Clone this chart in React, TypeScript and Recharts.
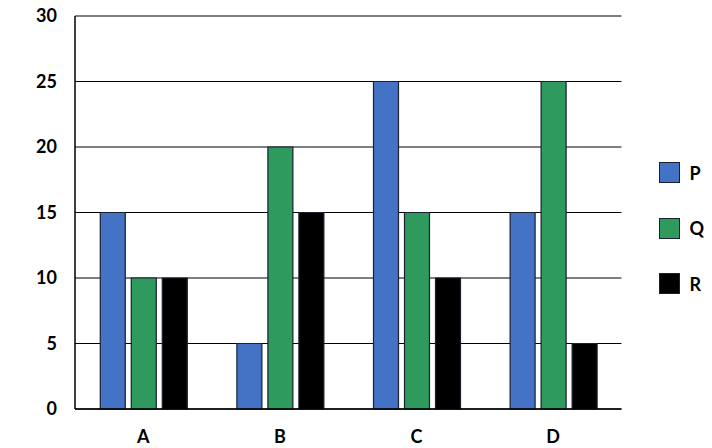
import { Bar, BarChart, CartesianGrid, Legend, XAxis, YAxis } from 'recharts';

const CATEGORIES = ['A', 'B', 'C', 'D'];
const SERIES_P = [15, 5, 25, 15];
const SERIES_Q = [10, 20, 15, 25];
const SERIES_R = [10, 15, 10, 5];
const Y_TICKS = [0, 5, 10, 15, 20, 25, 30];

const FONT = 'Lato, "Open Sans", sans-serif';
const BAR_STROKE = '#1b1f2e';

const SERIES = [
	{ key: 'P', color: '#4472c4' },
	{ key: 'Q', color: '#2e9a5e' },
	{ key: 'R', color: '#000000' },
];

const data = CATEGORIES.map((name, i) => ({
	name,
	P: SERIES_P[i],
	Q: SERIES_Q[i],
	R: SERIES_R[i],
}));

function SideLegend() {
	return (
		<div style={{ display: 'flex', flexDirection: 'column', gap: 34.5, paddingTop: 8 }}>
			{SERIES.map((s) => (
				<div key={s.key} style={{ display: 'flex', alignItems: 'center', height: 21 }}>
					<span
						style={{
							boxSizing: 'border-box',
							width: 21,
							height: 21,
							background: s.color,
							border: `1.5px solid ${BAR_STROKE}`,
							marginRight: 9,
						}}
					/>
					<span style={{ fontFamily: FONT, fontWeight: 700, fontSize: 18, color: '#000' }}>
						{s.key}
					</span>
				</div>
			))}
		</div>
	);
}

export default function App() {
	const tick = { fontFamily: FONT, fontWeight: 700, fontSize: 18, fill: '#000' };

	return (
		<div style={{ position: 'absolute', left: 0, top: 0, width: 712, height: 448, background: '#fff' }}>
			<BarChart
				width={712}
				height={448}
				data={data}
				margin={{ top: 16, right: 46, bottom: 0, left: 15 }}
				barCategoryGap="18.5%"
				barGap={6}
			>
				<CartesianGrid vertical={false} stroke="#000" strokeWidth={1.2} />
				<XAxis
					dataKey="name"
					height={39}
					axisLine={{ stroke: '#000', strokeWidth: 1.5 }}
					tickLine={false}
					tickSize={0}
					tickMargin={21}
					tick={tick}
				/>
				<YAxis
					width={60}
					domain={[0, 30]}
					ticks={Y_TICKS}
					axisLine={{ stroke: '#000', strokeWidth: 1.5 }}
					tickLine={false}
					tickSize={0}
					tickMargin={18}
					tick={tick}
				/>
				<Legend
					layout="vertical"
					align="right"
					verticalAlign="middle"
					wrapperStyle={{ right: 8 }}
					content={<SideLegend />}
				/>
				{SERIES.map((s) => (
					<Bar
						key={s.key}
						dataKey={s.key}
						fill={s.color}
						stroke={BAR_STROKE}
						strokeWidth={1.2}
						isAnimationActive={false}
					/>
				))}
			</BarChart>
		</div>
	);
}
